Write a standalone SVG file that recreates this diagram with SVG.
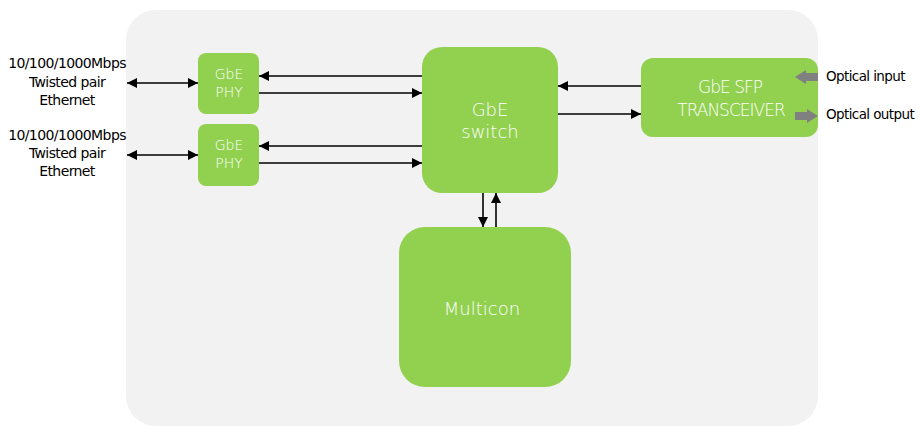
<svg xmlns="http://www.w3.org/2000/svg" width="918" height="426" viewBox="0 0 918 426">
<style>
.node{fill:#92d050}
.lbl{fill:#ffffff;font-family:"DejaVu Sans",sans-serif;text-anchor:middle;font-weight:300}
.ext{fill:#000000;font-family:"DejaVu Sans",sans-serif;font-size:14px;text-anchor:middle;letter-spacing:-0.6px}
.con{stroke:#000;stroke-width:1.6;fill:none}
.opt{fill:#808080}
</style>
<defs>
<marker id="ah" viewBox="0 0 10 10" refX="10" refY="5" markerWidth="10" markerHeight="10" markerUnits="userSpaceOnUse" orient="auto-start-reverse"><path d="M0,0 L10,5 L0,10 z" fill="#000"/></marker>
</defs>
<rect x="126" y="10" width="692" height="416" rx="30" fill="#f2f2f2"/>
<g id="ext-text">
<text class="ext" x="67" y="68">10/100/1000Mbps</text>
<text class="ext" x="67" y="87">Twisted pair</text>
<text class="ext" x="67" y="105">Ethernet</text>
<text class="ext" x="67" y="140">10/100/1000Mbps</text>
<text class="ext" x="67" y="158">Twisted pair</text>
<text class="ext" x="67" y="176">Ethernet</text>
<text class="ext" x="826" y="81" style="text-anchor:start;font-size:13.5px">Optical input</text>
<text class="ext" x="826" y="119" style="text-anchor:start;font-size:13.5px">Optical output</text>
</g>
<g id="phy1"><rect class="node" x="198" y="53" width="61" height="61" rx="8"/><text class="lbl" x="229" y="79" font-size="14">GbE</text><text class="lbl" x="229" y="97" font-size="14">PHY</text></g>
<g id="phy2"><rect class="node" x="198" y="124" width="61" height="62" rx="8"/><text class="lbl" x="229" y="150" font-size="14">GbE</text><text class="lbl" x="229" y="168" font-size="14">PHY</text></g>
<g id="switch"><rect class="node" x="422" y="47" width="136" height="146" rx="20"/><text class="lbl" x="490" y="116" font-size="18">GbE</text><text class="lbl" x="490" y="138" font-size="18">switch</text></g>
<g id="sfp"><rect class="node" x="641" y="58" width="177" height="79" rx="12"/><text class="lbl" x="730" y="93" font-size="17" letter-spacing="-1">GbE SFP</text><text class="lbl" x="731" y="116" font-size="17" letter-spacing="-1">TRANSCEIVER</text></g>
<g id="multicon"><rect class="node" x="399" y="227" width="172" height="160" rx="26"/><text class="lbl" x="482" y="315" font-size="18">Multicon</text></g>
<g id="connectors">
<line class="con" x1="127" y1="83" x2="198" y2="83" marker-start="url(#ah)" marker-end="url(#ah)"/>
<line class="con" x1="127" y1="155" x2="198" y2="155" marker-start="url(#ah)" marker-end="url(#ah)"/>
<line class="con" x1="422" y1="76" x2="259" y2="76" marker-end="url(#ah)"/>
<line class="con" x1="259" y1="93" x2="422" y2="93" marker-end="url(#ah)"/>
<line class="con" x1="422" y1="146" x2="259" y2="146" marker-end="url(#ah)"/>
<line class="con" x1="259" y1="163" x2="422" y2="163" marker-end="url(#ah)"/>
<line class="con" x1="641" y1="86" x2="558" y2="86" marker-end="url(#ah)"/>
<line class="con" x1="558" y1="114" x2="641" y2="114" marker-end="url(#ah)"/>
<line class="con" x1="483" y1="193" x2="483" y2="227" marker-end="url(#ah)"/>
<line class="con" x1="496" y1="227" x2="496" y2="193" marker-end="url(#ah)"/>
<polygon class="opt" points="795,77 806,70 806,73 818,73 818,81 806,81 806,84"/>
<polygon class="opt" points="818,116 807,109 807,112 795,112 795,120 807,120 807,123"/>
</g>
</svg>
